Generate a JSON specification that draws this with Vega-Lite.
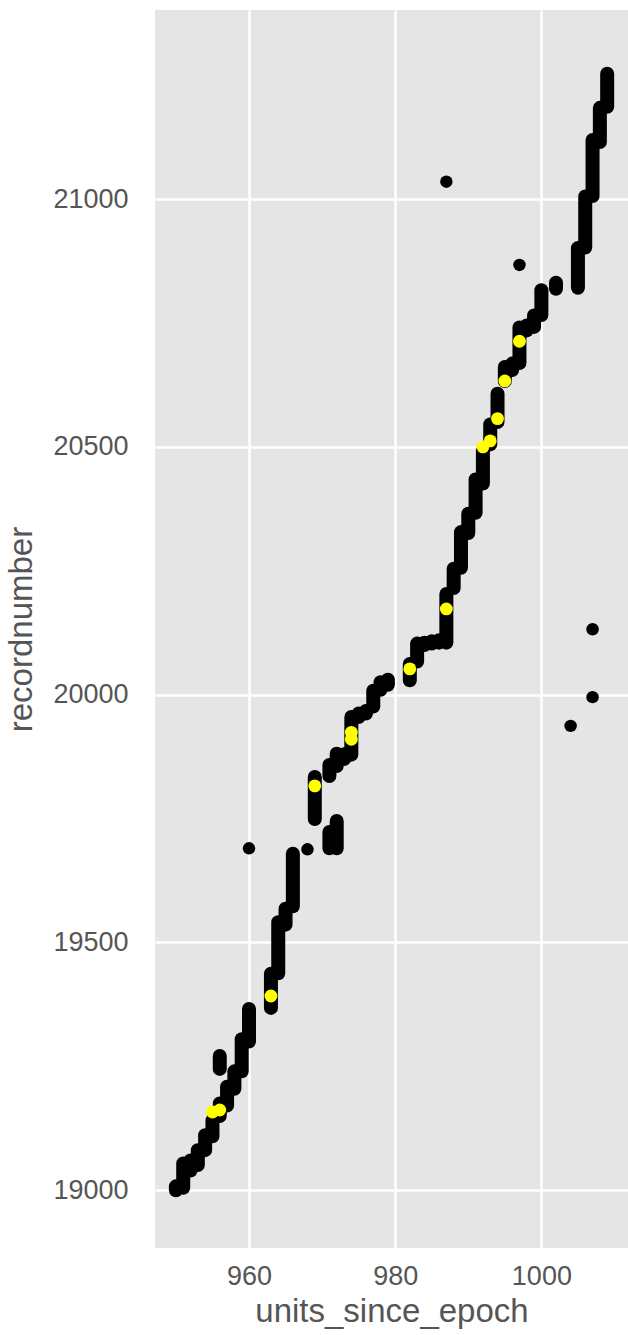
{
  "$schema": "https://vega.github.io/schema/vega-lite/v6.json",
  "width": 473,
  "height": 1238,
  "autosize": "none",
  "padding": {"left": 155, "top": 10, "right": 0, "bottom": 87},
  "background": "white",
  "config": {
    "view": {"fill": "#E5E5E5", "stroke": null},
    "axis": {
      "grid": true, "gridColor": "white", "gridWidth": 2.5, "gridOpacity": 1,
      "ticks": false, "domain": false,
      "labelFont": "Liberation Sans", "labelFontSize": 27, "labelColor": "#555555",
      "titleFont": "Liberation Sans", "titleFontSize": 33, "titleFontWeight": "normal", "titleColor": "#555555"
    },
    "axisX": {"labelPadding": 15, "titlePadding": 6},
    "axisY": {"labelPadding": 27, "titlePadding": 14}
  },
  "datasets": {
    "stacks": [
      {"x": 950, "lo": 19000, "hi": 19008},
      {"x": 951, "lo": 19005, "hi": 19054},
      {"x": 952, "lo": 19040, "hi": 19060},
      {"x": 953, "lo": 19051, "hi": 19081},
      {"x": 954, "lo": 19081, "hi": 19111},
      {"x": 955, "lo": 19109, "hi": 19141},
      {"x": 956, "lo": 19150, "hi": 19175},
      {"x": 956, "lo": 19245, "hi": 19271},
      {"x": 957, "lo": 19171, "hi": 19209},
      {"x": 958, "lo": 19205, "hi": 19240},
      {"x": 959, "lo": 19240, "hi": 19305},
      {"x": 960, "lo": 19300, "hi": 19366},
      {"x": 963, "lo": 19368, "hi": 19437},
      {"x": 964, "lo": 19438, "hi": 19541},
      {"x": 965, "lo": 19536, "hi": 19568},
      {"x": 966, "lo": 19573, "hi": 19679},
      {"x": 969, "lo": 19749, "hi": 19834},
      {"x": 971, "lo": 19690, "hi": 19723},
      {"x": 972, "lo": 19690, "hi": 19745},
      {"x": 971, "lo": 19836, "hi": 19858},
      {"x": 972, "lo": 19856, "hi": 19881},
      {"x": 973, "lo": 19870, "hi": 19880},
      {"x": 974, "lo": 19879, "hi": 19955},
      {"x": 975, "lo": 19955, "hi": 19962},
      {"x": 976, "lo": 19962, "hi": 19967},
      {"x": 977, "lo": 19976, "hi": 20008},
      {"x": 978, "lo": 20010, "hi": 20025},
      {"x": 979, "lo": 20020, "hi": 20030},
      {"x": 982, "lo": 20029, "hi": 20062},
      {"x": 983, "lo": 20067, "hi": 20103},
      {"x": 984, "lo": 20100, "hi": 20105},
      {"x": 985, "lo": 20103, "hi": 20108},
      {"x": 986, "lo": 20105, "hi": 20110},
      {"x": 987, "lo": 20105, "hi": 20203},
      {"x": 988, "lo": 20215, "hi": 20254},
      {"x": 989, "lo": 20256, "hi": 20328},
      {"x": 990, "lo": 20326, "hi": 20365},
      {"x": 991, "lo": 20367, "hi": 20434},
      {"x": 992, "lo": 20426, "hi": 20492},
      {"x": 993, "lo": 20505, "hi": 20545},
      {"x": 994, "lo": 20550, "hi": 20607},
      {"x": 995, "lo": 20633, "hi": 20661},
      {"x": 996, "lo": 20655, "hi": 20668},
      {"x": 997, "lo": 20669, "hi": 20741},
      {"x": 998, "lo": 20735, "hi": 20745},
      {"x": 999, "lo": 20742, "hi": 20765},
      {"x": 1000, "lo": 20766, "hi": 20816},
      {"x": 1002, "lo": 20819, "hi": 20831},
      {"x": 1005, "lo": 20821, "hi": 20901},
      {"x": 1006, "lo": 20902, "hi": 21005},
      {"x": 1007, "lo": 21006, "hi": 21119},
      {"x": 1008, "lo": 21115, "hi": 21184},
      {"x": 1009, "lo": 21186, "hi": 21253}
    ],
    "singles": [
      {"x": 960, "y": 19690},
      {"x": 968, "y": 19688},
      {"x": 1004, "y": 19937},
      {"x": 1007, "y": 19995},
      {"x": 1007, "y": 20132},
      {"x": 997, "y": 20867},
      {"x": 987, "y": 21035}
    ],
    "yellow": [
      {"x": 955, "y": 19158},
      {"x": 956, "y": 19162},
      {"x": 963, "y": 19392},
      {"x": 969, "y": 19816},
      {"x": 974, "y": 19910},
      {"x": 974, "y": 19924},
      {"x": 982, "y": 20052},
      {"x": 987, "y": 20173},
      {"x": 992, "y": 20500},
      {"x": 993, "y": 20512},
      {"x": 994, "y": 20557},
      {"x": 995, "y": 20633},
      {"x": 997, "y": 20713}
    ]
  },
  "layer": [
    {
      "data": {"name": "stacks"},
      "mark": {"type": "rule", "strokeWidth": 14, "strokeCap": "round", "color": "black"},
      "encoding": {
        "x": {"field": "x", "type": "quantitative", "title": "units_since_epoch",
              "scale": {"domain": [947.14, 1011.85], "nice": false, "zero": false},
              "axis": {"values": [960, 980, 1000], "format": "d"}},
        "y": {"field": "lo", "type": "quantitative", "title": "recordnumber",
              "scale": {"domain": [18883.6, 21381.4], "nice": false, "zero": false},
              "axis": {"values": [19000, 19500, 20000, 20500, 21000], "format": "d"}},
        "y2": {"field": "hi"}
      }
    },
    {
      "data": {"name": "singles"},
      "mark": {"type": "circle", "size": 155, "color": "black", "opacity": 1},
      "encoding": {
        "x": {"field": "x", "type": "quantitative", "title": "units_since_epoch"},
        "y": {"field": "y", "type": "quantitative", "title": "recordnumber"}
      }
    },
    {
      "data": {"name": "yellow"},
      "mark": {"type": "circle", "size": 165, "color": "#ffff00", "opacity": 1},
      "encoding": {
        "x": {"field": "x", "type": "quantitative", "title": "units_since_epoch"},
        "y": {"field": "y", "type": "quantitative", "title": "recordnumber"}
      }
    }
  ]
}
